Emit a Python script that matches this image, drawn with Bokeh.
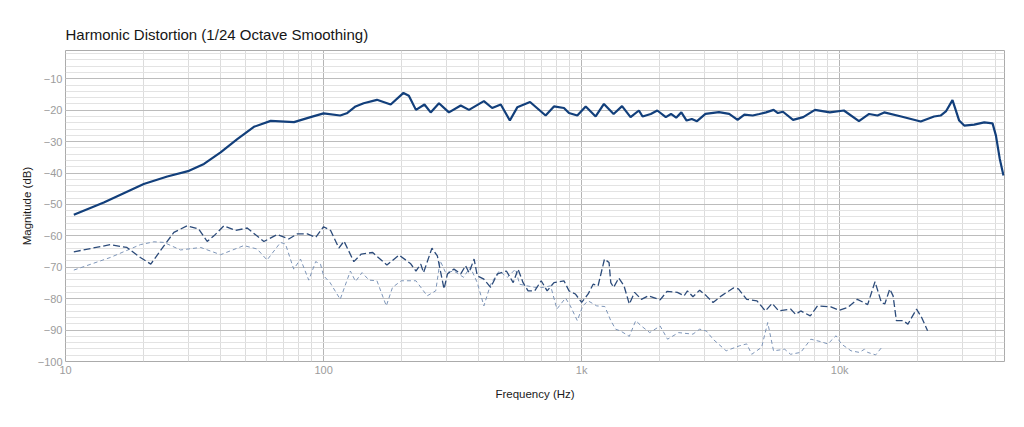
from bokeh.plotting import figure
from bokeh.models import FixedTicker, CustomJSTickFormatter
from bokeh.embed import file_html
from bokeh.resources import INLINE

# ---- data ----
fund_freq = [10.77, 14.07, 20.1, 24.8, 30.1, 34.4, 39.9, 46.3, 53.7, 62.4, 76.8, 89.0, 100, 116, 123,
             133, 143, 161, 182, 204, 214, 228, 246, 260, 280, 306, 340, 366, 418, 450, 486, 527, 563,
             631, 725, 781, 854, 893, 962, 1037, 1133, 1220, 1330, 1434, 1547, 1667, 1722, 1853, 1964,
             2119, 2219, 2324, 2434, 2551, 2672, 2799, 3018, 3404, 3730, 4020, 4271, 4600, 4883, 5183,
             5544, 5760, 6026, 6595, 7220, 8018, 9150, 10380, 11870, 13000, 14010, 14870, 17310, 20600,
             23200, 24600, 25780, 27350, 29030, 30370, 33200, 36300, 39100, 40300, 41700, 43100]
fund_db = [-53.3, -49.4, -43.5, -41.1, -39.3, -37.1, -33.4, -29.2, -25.3, -23.4, -23.8, -22.2, -21.0, -21.7, -21.0,
           -18.8, -17.8, -16.7, -18.2, -14.5, -15.4, -19.9, -18.2, -20.7, -17.8, -20.7, -18.5, -19.9, -17.1, -19.3, -18.2, -23.3, -19.1,
           -17.4, -21.7, -18.8, -19.3, -20.9, -21.7, -18.8, -22.0, -18.0, -21.2, -18.7, -22.2, -20.1, -22.0, -21.2, -20.1,
           -22.2, -21.2, -22.4, -20.7, -23.3, -22.8, -23.5, -21.2, -20.6, -21.2, -23.1, -21.4, -21.7, -21.2, -20.7,
           -19.9, -20.9, -20.5, -23.1, -22.2, -19.9, -20.7, -20.1, -23.5, -21.2, -21.7, -20.7, -22.0, -23.6,
           -22.0, -21.7, -20.4, -16.8, -23.3, -24.9, -24.6, -23.9, -24.2, -28.1, -35.5, -40.8]

h2_freq = [10.77, 14.9, 17.3, 19.5, 21.4, 24.1, 26.3, 29.6, 32.8, 35.4, 37.6, 41.1, 45.6, 50.6, 58.7, 66.1,
           73.3, 79.0, 86.5, 93.2, 100, 106.5, 114.6, 120, 131, 140, 155, 176, 196, 217, 228, 238, 244,
           263, 276, 293, 302, 320, 340, 355, 366, 383, 394, 418, 444, 472, 511, 543, 567, 593, 620, 658,
           697, 735, 781, 854, 893, 945, 1000, 1060, 1108, 1158, 1226, 1277, 1297, 1330, 1393, 1459, 1530,
           1604, 1704, 1810, 2014, 2141, 2349, 2494, 2570, 2699, 2866, 3042, 3230, 3480, 3870, 4050, 4360,
           4780, 5150, 5470, 5800, 6450, 6750, 7060, 7690, 8200, 9240, 9960, 10730, 11700, 12830, 13700,
           14500, 14950, 15630, 16100, 16580, 17600, 18380, 19840, 20770, 21900]
h2_db = [-65.1, -62.8, -63.7, -66.9, -69.0, -63.1, -58.9, -56.8, -57.8, -61.8, -60.0, -56.8, -58.3, -57.5, -61.8, -59.6,
         -61.0, -59.4, -59.4, -60.5, -57.1, -58.3, -63.9, -61.7, -68.2, -65.8, -65.3, -69.3, -66.1, -68.8, -71.2, -69.0, -71.7,
         -63.9, -66.4, -76.9, -72.1, -70.6, -72.1, -69.5, -71.7, -67.4, -72.7, -73.8, -76.4, -72.1, -71.2, -74.9, -70.6, -74.9, -77.5, -77.5,
         -74.3, -77.5, -74.9, -74.3, -77.5, -78.5, -81.2, -78.5, -75.4, -75.9, -67.4, -68.5, -74.9, -76.4, -73.4, -75.9, -81.7,
         -78.0, -80.2, -79.1, -80.4, -77.7, -78.0, -79.1, -77.5, -79.4, -77.3, -79.1, -81.2, -79.1, -76.6, -76.9, -80.2,
         -80.7, -83.9, -81.5, -83.9, -83.3, -85.0, -83.9, -85.5, -82.3, -82.6, -83.7, -82.8, -80.2, -81.9, -74.6,
         -81.2, -81.7, -76.9, -79.1, -87.0, -87.0, -88.1, -83.3, -86.0, -90.2]

h3_freq = [10.77, 14.9, 19.5, 22, 24.1, 27.9, 33.4, 39.9, 49.1, 55.3, 60.4, 68.1, 71.2, 76.6, 81.4, 87.6,
           93.2, 97.3, 100, 106, 116, 127, 133, 141, 150, 161, 175, 185, 200, 228, 252, 272, 283, 297,
           320, 349, 370, 394, 418, 444, 479, 516, 554, 575, 612, 658, 713, 758, 802, 866, 904, 962, 1010,
           1060, 1144, 1230, 1297, 1354, 1416, 1530, 1620, 1704, 1836, 2014, 2152, 2375, 2699, 2866, 3042,
           3230, 3630, 4090, 4360, 4560, 4980, 5260, 5540, 6120, 6450, 7060, 7730, 8460, 8990, 9680,
           10140, 11060, 11910, 12470, 12830, 13780, 14720]
h3_db = [-70.9, -66.9, -62.8, -61.9, -62.1, -64.5, -63.7, -66.0, -63.1, -64.2, -67.7, -62.1, -62.6, -70.6, -67.4, -74.1,
         -68.2, -69.0, -72.7, -74.9, -80.2, -71.2, -74.5, -71.7, -74.1, -74.3, -82.3, -76.4, -74.3, -74.3, -79.1, -77.5, -67.9, -71.7,
         -71.2, -73.2, -69.9, -74.9, -82.3, -75.4, -71.2, -73.2, -70.6, -75.4, -75.9, -76.4, -76.4, -75.9, -83.3, -79.8, -82.3, -87.0, -82.3,
         -80.7, -82.3, -82.5, -87.0, -89.7, -90.3, -92.0, -87.0, -88.7, -90.8, -88.7, -92.9, -90.8, -91.3, -89.7, -90.3,
         -92.9, -96.6, -95.0, -94.4, -97.7, -95.5, -87.6, -96.6, -96.1, -97.7, -97.1, -92.9, -93.7, -94.4, -91.8,
         -94.4, -96.6, -97.1, -96.1, -97.1, -97.9, -95.0]

x_major = [10, 100, 1000, 10000]
x_minor = [20, 30, 40, 50, 60, 70, 80, 90, 200, 300, 400, 500, 600, 700, 800, 900,
           2000, 3000, 4000, 5000, 6000, 7000, 8000, 9000, 20000, 30000, 40000]
y_major = [-100, -90, -80, -70, -60, -50, -40, -30, -20, -10]
y_minor = list(range(-100, 0, 2))

title_text = "Harmonic Distortion (1/24 Octave Smoothing)"
x_label = "Frequency (Hz)"
y_label = "Magnitude (dB)"

FONT = "Liberation Sans"

p = figure(x_axis_type="log", x_range=(10, 43500), y_range=(-100, -1),
           frame_width=939, frame_height=311,
           min_border_left=65, min_border_right=20, min_border_top=50, min_border_bottom=50,
           output_backend="svg", toolbar_location=None)

p.background_fill_color = "white"
p.border_fill_color = "white"
p.outline_line_color = "#ababab"
p.outline_line_width = 1

p.title.text = title_text
p.title.align = "left"
p.title.offset = 0
p.title.text_font = FONT
p.title.text_font_size = "15px"
p.title.text_font_style = "normal"
p.title.text_color = "#161616"
p.title.vertical_align = "bottom"
p.title.standoff = 15

p.xaxis.ticker = FixedTicker(ticks=x_major, minor_ticks=x_minor)
p.yaxis.ticker = FixedTicker(ticks=y_major, minor_ticks=y_minor)
p.xaxis.formatter = CustomJSTickFormatter(code="return tick >= 1000 ? (tick/1000) + 'k' : String(tick);")

for ax in (p.xaxis, p.yaxis):
    ax.axis_line_color = None
    ax.major_tick_line_color = None
    ax.minor_tick_line_color = None
    ax.major_tick_out = 0
    ax.major_tick_in = 0
    ax.minor_tick_out = 0
    ax.minor_tick_in = 0
    ax.major_label_text_color = "#9c9c9c"
    ax.major_label_text_font = FONT
    ax.major_label_text_font_size = "11px"
    ax.axis_label_text_font = FONT
    ax.axis_label_text_font_size = "11.5px"
    ax.axis_label_text_font_style = "normal"
    ax.axis_label_text_color = "#1a1a1a"

p.xaxis.major_label_standoff = 2
p.xaxis.axis_label_standoff = 9
p.yaxis.major_label_standoff = 3
p.yaxis.axis_label_standoff = 2
p.xaxis.axis_label = x_label
p.yaxis.axis_label = y_label

p.xgrid.grid_line_color = "#b5b5b5"
p.xgrid.minor_grid_line_color = "#dcdcdc"
p.ygrid.grid_line_color = "#bcbcbc"
p.ygrid.minor_grid_line_color = "#e3e3e3"
p.xgrid.grid_line_width = 1
p.ygrid.grid_line_width = 1

p.line(h3_freq, h3_db, line_color="#7d95b8", line_width=1, line_dash="4 3")
p.line(h2_freq, h2_db, line_color="#2c4b7a", line_width=1.3, line_dash="7 3")
p.line(fund_freq, fund_db, line_color="#123f7b", line_width=2.2)

open("out.html", "w").write(file_html(p, INLINE))
